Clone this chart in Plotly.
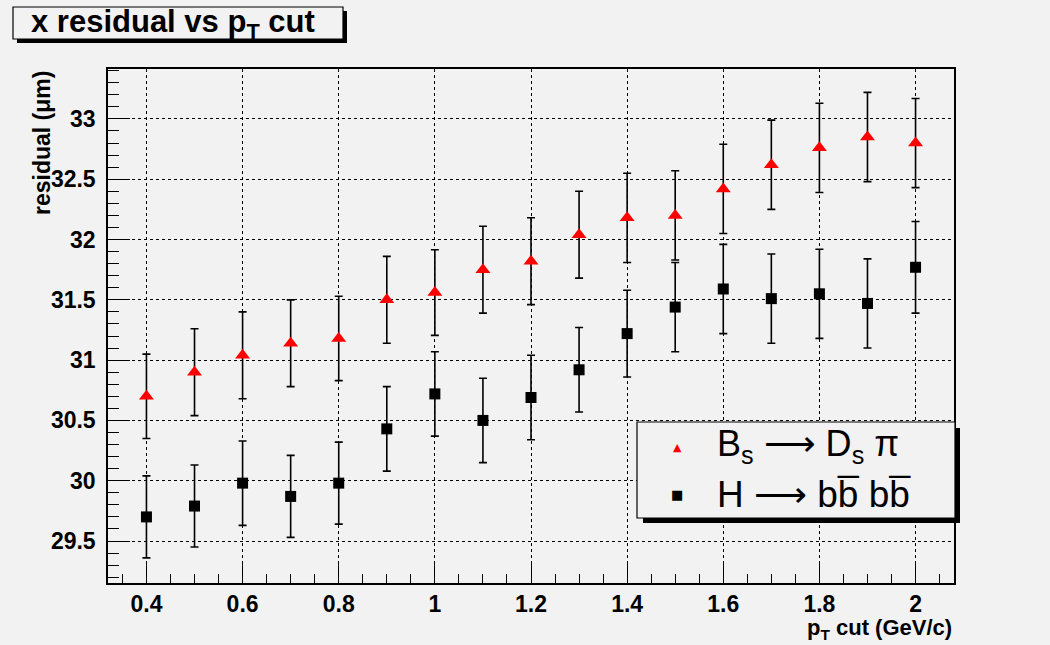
import plotly.graph_objects as go

# ---- data ----
pt_cut = [0.4, 0.5, 0.6, 0.7, 0.8, 0.9, 1.0, 1.1, 1.2, 1.3, 1.4, 1.5, 1.6, 1.7, 1.8, 1.9, 2.0]
bs_resid = [30.70, 30.90, 31.04, 31.14, 31.18, 31.50, 31.56, 31.75, 31.82, 32.04, 32.18, 32.20, 32.42, 32.62, 32.76, 32.85, 32.80]
bs_err = [0.35, 0.36, 0.36, 0.36, 0.35, 0.36, 0.355, 0.36, 0.36, 0.36, 0.37, 0.37, 0.37, 0.37, 0.37, 0.37, 0.37]
h_resid = [29.70, 29.79, 29.98, 29.87, 29.98, 30.43, 30.72, 30.50, 30.69, 30.92, 31.22, 31.44, 31.59, 31.51, 31.55, 31.47, 31.77]
h_err = [0.34, 0.34, 0.35, 0.34, 0.34, 0.35, 0.35, 0.35, 0.35, 0.35, 0.36, 0.37, 0.37, 0.37, 0.37, 0.37, 0.38]

x_ticks = [0.4, 0.6, 0.8, 1.0, 1.2, 1.4, 1.6, 1.8, 2.0]
x_ticklabels = ["0.4", "0.6", "0.8", "1", "1.2", "1.4", "1.6", "1.8", "2"]
y_ticks = [29.5, 30, 30.5, 31, 31.5, 32, 32.5, 33]
y_ticklabels = ["29.5", "30", "30.5", "31", "31.5", "32", "32.5", "33"]

# ---- layout geometry (pixels) ----
W, H = 1050, 645
L, R, T, B = 108, 96, 69, 62
PW, PH = W - L - R, H - T - B
BG = "#f2f2f2"
FONT = "Liberation Sans, Arial, Helvetica, sans-serif"


def px(xp):
    return (xp - L) / PW


def py(yp):
    return 1 - (yp - T) / PH


fig = go.Figure()

fig.add_trace(go.Scatter(
    x=pt_cut, y=bs_resid, mode="markers", name="Bs",
    marker=dict(symbol="triangle-up", size=13, color="#ff0000", line=dict(width=0)),
    error_y=dict(type="data", array=bs_err, visible=True, color="black", thickness=1.6, width=4),
    showlegend=False,
))
fig.add_trace(go.Scatter(
    x=pt_cut, y=h_resid, mode="markers", name="H",
    marker=dict(symbol="square", size=11, color="black", line=dict(width=0)),
    error_y=dict(type="data", array=h_err, visible=True, color="black", thickness=1.6, width=4),
    showlegend=False,
))

shapes = []
annotations = []

# title box with shadow
shapes.append(dict(type="rect", xref="paper", yref="paper", x0=px(17), x1=px(347), y0=py(43), y1=py(11),
                   fillcolor="black", line=dict(width=0), layer="above"))
shapes.append(dict(type="rect", xref="paper", yref="paper", x0=px(13), x1=px(343), y0=py(39), y1=py(7),
                   fillcolor=BG, line=dict(color="black", width=1.2), layer="above"))
annotations.append(dict(xref="paper", yref="paper", x=px(173), y=py(24), xanchor="center", yanchor="middle",
                        text="<b>x residual vs p<sub>T</sub> cut</b>", showarrow=False,
                        font=dict(family=FONT, size=31, color="black")))

# legend box with shadow
shapes.append(dict(type="rect", xref="paper", yref="paper", x0=px(643), x1=px(960), y0=py(523), y1=py(428),
                   fillcolor="black", line=dict(width=0), layer="above"))
shapes.append(dict(type="rect", xref="paper", yref="paper", x0=px(637), x1=px(955), y0=py(518), y1=py(422),
                   fillcolor=BG, line=dict(color="black", width=1.2), layer="above"))
annotations.append(dict(xref="paper", yref="paper", x=px(677), y=py(447), xanchor="center", yanchor="middle",
                        text="▲", showarrow=False, font=dict(family="DejaVu Sans", size=11, color="#ff0000")))
annotations.append(dict(xref="paper", yref="paper", x=px(677), y=py(494), xanchor="center", yanchor="middle",
                        text="■", showarrow=False, font=dict(family="DejaVu Sans", size=13, color="black")))
annotations.append(dict(xref="paper", yref="paper", x=px(715), y=py(446), xanchor="left", yanchor="middle",
                        text="B<sub>s</sub> ⟶ D<sub>s</sub> π", showarrow=False,
                        font=dict(family=FONT, size=36, color="black")))
annotations.append(dict(xref="paper", yref="paper", x=px(715), y=py(494), xanchor="left", yanchor="middle",
                        text="H ⟶ bb\u0305 bb\u0305", showarrow=False,
                        font=dict(family=FONT, size=37, color="black")))

# axis titles
annotations.append(dict(xref="paper", yref="paper", x=px(954), y=py(629), xanchor="right", yanchor="middle",
                        text="<b>p<sub>T</sub> cut (GeV/c)</b>", showarrow=False,
                        font=dict(family=FONT, size=22, color="black")))
annotations.append(dict(xref="paper", yref="paper", x=px(42), y=py(69), xanchor="center", yanchor="top",
                        text="<b>residual (μm)</b>", textangle=-90, showarrow=False,
                        font=dict(family=FONT, size=23, color="black")))

fig.update_layout(
    width=W, height=H,
    margin=dict(l=L, r=R, t=T, b=B, pad=0),
    paper_bgcolor=BG, plot_bgcolor=BG,
    shapes=shapes, annotations=annotations,
    showlegend=False,
    font=dict(family=FONT, color="black"),
)

fig.update_xaxes(
    range=[0.32, 2.08], tickmode="array", tickvals=x_ticks, ticktext=x_ticklabels,
    ticks="inside", ticklen=22, tickwidth=1, tickcolor="black",
    minor=dict(ticks="inside", ticklen=9, dtick=0.05, tick0=0.4, tickcolor="black", showgrid=False),
    showgrid=True, gridcolor="black", griddash="dot", gridwidth=1,
    showline=True, linecolor="black", linewidth=1.5, mirror=True,
    zeroline=False, ticklabelstandoff=0,
    tickfont=dict(family=FONT, size=23, color="black", weight="bold"),
)
fig.update_yaxes(
    range=[29.152, 33.414], tickmode="array", tickvals=y_ticks, ticktext=y_ticklabels,
    ticks="inside", ticklen=22, tickwidth=1, tickcolor="black",
    minor=dict(ticks="inside", ticklen=11, dtick=0.1, tick0=29.5, tickcolor="black", showgrid=False),
    showgrid=True, gridcolor="black", griddash="dot", gridwidth=1,
    showline=True, linecolor="black", linewidth=1.5, mirror=True,
    zeroline=False, ticklabelstandoff=6,
    tickfont=dict(family=FONT, size=23, color="black", weight="bold"),
)

fig.write_html("out.html")
